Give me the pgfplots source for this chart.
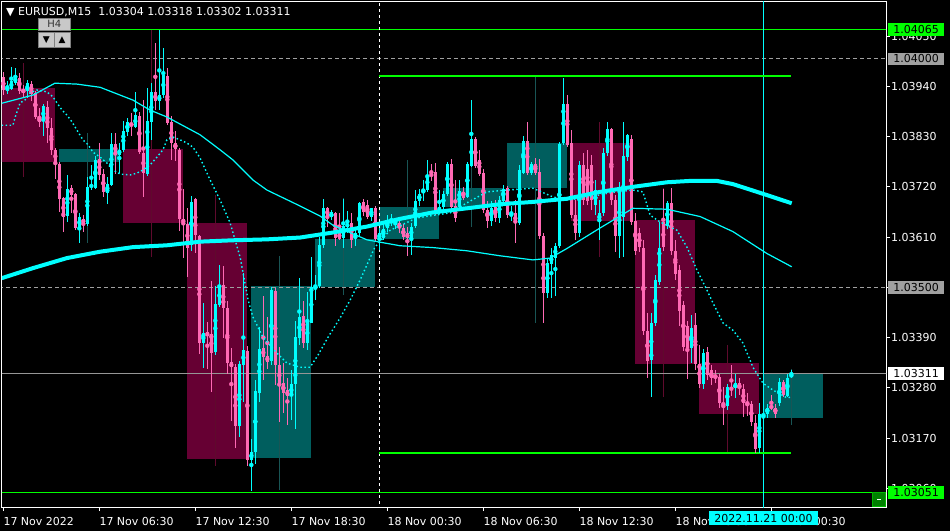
\documentclass[border=0pt]{standalone}
\usepackage{pgfplots}
\pgfplotsset{compat=1.18}
\usepackage{pgfplotstable}
\usepackage{fontspec}
\setmainfont{DejaVu Sans}
\newcommand\lbl{\fontsize{11}{13}\selectfont}

\definecolor{mtpink}{RGB}{255,105,180}
\definecolor{mtcyan}{RGB}{0,255,255}
\definecolor{boxbear}{RGB}{102,0,51}
\definecolor{boxbull}{RGB}{0,94,94}
\definecolor{wickbear}{RGB}{95,10,45}
\definecolor{wickbull}{RGB}{25,85,85}
\definecolor{mtgreen}{RGB}{0,255,0}
\definecolor{mtgray}{RGB}{160,160,160}
\definecolor{bidgray}{RGB}{150,150,150}
\definecolor{btngray}{RGB}{200,200,200}

% M15 bars, k = bar index from 17 Nov 00:30; rising bars
\pgfplotstableread{
k o h l c
1 1.03932 1.03954 1.03925 1.03941
2 1.03936 1.03982 1.03932 1.03952
3 1.03949 1.03980 1.03943 1.03960
6 1.03930 1.03956 1.03917 1.03947
10 1.03864 1.03903 1.03833 1.03897
16 1.03656 1.03746 1.03643 1.03715
19 1.03630 1.03663 1.03597 1.03656
21 1.03639 1.03742 1.03636 1.03720
22 1.03720 1.03768 1.03713 1.03724
23 1.03720 1.03790 1.03717 1.03781
26 1.03709 1.03742 1.03685 1.03728
27 1.03726 1.03838 1.03722 1.03814
29 1.03792 1.03816 1.03752 1.03803
30 1.03801 1.03864 1.03796 1.03842
31 1.03842 1.03871 1.03833 1.03862
33 1.03851 1.03928 1.03849 1.03877
36 1.03750 1.03938 1.03746 1.03866
37 1.03862 1.03949 1.03822 1.03928
39 1.03908 1.04063 1.03888 1.03921
40 1.03921 1.04024 1.03915 1.03965
47 1.03593 1.03702 1.03582 1.03687
50 1.03378 1.03465 1.03323 1.03402
53 1.03358 1.03503 1.03352 1.03463
54 1.03463 1.03549 1.03457 1.03503
59 1.03196 1.03339 1.03172 1.03332
60 1.03330 1.03533 1.03249 1.03363
62 1.03124 1.03168 1.03056 1.03141
63 1.03141 1.03299 1.03115 1.03273
64 1.03268 1.03413 1.03249 1.03365
67 1.03339 1.03501 1.03330 1.03494
72 1.03262 1.03321 1.03211 1.03288
73 1.03288 1.03428 1.03190 1.03391
74 1.03391 1.03520 1.03374 1.03435
76 1.03378 1.03490 1.03363 1.03424
77 1.03424 1.03568 1.03422 1.03503
78 1.03501 1.03527 1.03472 1.03505
79 1.03503 1.03610 1.03498 1.03593
80 1.03593 1.03695 1.03588 1.03674
82 1.03654 1.03669 1.03647 1.03665
85 1.03608 1.03695 1.03588 1.03636
86 1.03634 1.03669 1.03621 1.03641
88 1.03608 1.03630 1.03593 1.03619
89 1.03619 1.03687 1.03610 1.03685
92 1.03654 1.03676 1.03647 1.03674
94 1.03606 1.03630 1.03582 1.03619
95 1.03610 1.03641 1.03604 1.03628
96 1.03630 1.03658 1.03621 1.03643
97 1.03643 1.03660 1.03634 1.03647
98 1.03643 1.03654 1.03630 1.03647
102 1.03608 1.03641 1.03571 1.03632
103 1.03636 1.03713 1.03630 1.03691
104 1.03691 1.03717 1.03680 1.03706
105 1.03706 1.03735 1.03691 1.03713
106 1.03713 1.03779 1.03709 1.03746
109 1.03665 1.03713 1.03660 1.03676
110 1.03676 1.03713 1.03669 1.03706
111 1.03706 1.03774 1.03700 1.03772
114 1.03676 1.03735 1.03669 1.03711
116 1.03698 1.03774 1.03695 1.03772
117 1.03768 1.03910 1.03763 1.03827
122 1.03647 1.03691 1.03636 1.03676
124 1.03652 1.03702 1.03643 1.03691
125 1.03691 1.03724 1.03687 1.03717
127 1.03658 1.03680 1.03647 1.03663
129 1.03641 1.03768 1.03636 1.03757
130 1.03752 1.03833 1.03750 1.03822
132 1.03752 1.03774 1.03746 1.03770
136 1.03488 1.03564 1.03477 1.03555
137 1.03553 1.03586 1.03477 1.03571
138 1.03566 1.03599 1.03483 1.03593
139 1.03593 1.03818 1.03586 1.03816
140 1.03816 1.03960 1.03812 1.03903
144 1.03619 1.03779 1.03612 1.03768
148 1.03680 1.03735 1.03658 1.03713
149 1.03647 1.03691 1.03604 1.03663
150 1.03663 1.03805 1.03656 1.03794
151 1.03794 1.03862 1.03788 1.03847
154 1.03612 1.03731 1.03564 1.03717
155 1.03654 1.03862 1.03566 1.03788
156 1.03785 1.03838 1.03779 1.03833
162 1.03341 1.03444 1.03260 1.03422
163 1.03422 1.03527 1.03417 1.03516
164 1.03513 1.03643 1.03505 1.03588
166 1.03636 1.03691 1.03630 1.03687
172 1.03369 1.03439 1.03334 1.03413
175 1.03290 1.03367 1.03279 1.03358
181 1.03242 1.03288 1.03231 1.03282
183 1.03279 1.03312 1.03258 1.03290
189 1.03148 1.03247 1.03139 1.03222
190 1.03214 1.03242 1.03198 1.03220
191 1.03225 1.03247 1.03216 1.03238
194 1.03247 1.03303 1.03242 1.03293
196 1.03264 1.03312 1.03260 1.03303
197 1.03304 1.03318 1.03302 1.03311
}\bull

% falling bars
\pgfplotstableread{
k o h l c
0 1.03960 1.03971 1.03921 1.03932
4 1.03960 1.03971 1.03925 1.03930
5 1.03934 1.03945 1.03919 1.03928
7 1.03947 1.03952 1.03908 1.03925
8 1.03925 1.03932 1.03871 1.03873
9 1.03873 1.03893 1.03851 1.03862
11 1.03895 1.03910 1.03816 1.03849
12 1.03849 1.03871 1.03790 1.03801
13 1.03801 1.03807 1.03739 1.03774
14 1.03772 1.03774 1.03665 1.03695
15 1.03695 1.03698 1.03621 1.03654
17 1.03717 1.03726 1.03665 1.03702
18 1.03704 1.03706 1.03625 1.03630
20 1.03652 1.03658 1.03621 1.03641
24 1.03781 1.03816 1.03735 1.03746
25 1.03748 1.03759 1.03698 1.03709
28 1.03814 1.03838 1.03750 1.03794
32 1.03862 1.03882 1.03831 1.03855
34 1.03877 1.03884 1.03794 1.03798
35 1.03794 1.03910 1.03698 1.03750
38 1.03928 1.04035 1.03888 1.03908
41 1.03963 1.03980 1.03855 1.03860
42 1.03862 1.03877 1.03779 1.03816
43 1.03816 1.03844 1.03779 1.03803
44 1.03803 1.03805 1.03625 1.03652
45 1.03652 1.03717 1.03566 1.03641
46 1.03641 1.03674 1.03523 1.03588
48 1.03693 1.03698 1.03577 1.03614
49 1.03614 1.03617 1.03356 1.03380
51 1.03402 1.03424 1.03321 1.03393
52 1.03398 1.03514 1.03271 1.03358
55 1.03505 1.03547 1.03391 1.03455
56 1.03455 1.03470 1.03312 1.03334
57 1.03336 1.03369 1.03209 1.03325
58 1.03325 1.03334 1.03150 1.03196
61 1.03363 1.03371 1.03109 1.03124
65 1.03367 1.03483 1.03299 1.03347
66 1.03350 1.03435 1.03323 1.03339
68 1.03492 1.03498 1.03286 1.03330
69 1.03330 1.03369 1.03205 1.03286
70 1.03293 1.03334 1.03225 1.03271
71 1.03275 1.03303 1.03198 1.03262
75 1.03437 1.03470 1.03367 1.03378
81 1.03674 1.03676 1.03634 1.03656
83 1.03663 1.03665 1.03590 1.03608
84 1.03621 1.03663 1.03604 1.03608
87 1.03641 1.03663 1.03586 1.03604
90 1.03687 1.03693 1.03656 1.03667
91 1.03680 1.03693 1.03652 1.03654
93 1.03674 1.03680 1.03604 1.03606
99 1.03641 1.03647 1.03621 1.03630
100 1.03630 1.03639 1.03604 1.03610
101 1.03619 1.03634 1.03571 1.03608
107 1.03748 1.03772 1.03735 1.03744
108 1.03752 1.03774 1.03660 1.03665
112 1.03772 1.03781 1.03669 1.03676
113 1.03678 1.03735 1.03643 1.03652
115 1.03711 1.03720 1.03691 1.03698
118 1.03827 1.03829 1.03761 1.03768
119 1.03781 1.03801 1.03744 1.03750
120 1.03750 1.03761 1.03663 1.03669
121 1.03671 1.03691 1.03632 1.03647
123 1.03676 1.03691 1.03643 1.03652
126 1.03717 1.03722 1.03652 1.03658
128 1.03663 1.03691 1.03597 1.03641
131 1.03822 1.03862 1.03746 1.03752
133 1.03770 1.03783 1.03746 1.03752
134 1.03755 1.03783 1.03608 1.03614
135 1.03614 1.03619 1.03422 1.03488
141 1.03903 1.03921 1.03807 1.03812
142 1.03816 1.03844 1.03652 1.03658
143 1.03658 1.03691 1.03604 1.03619
145 1.03768 1.03794 1.03680 1.03691
146 1.03761 1.03801 1.03680 1.03691
147 1.03768 1.03790 1.03669 1.03691
152 1.03847 1.03849 1.03680 1.03691
153 1.03691 1.03702 1.03577 1.03612
157 1.03825 1.03833 1.03636 1.03645
158 1.03647 1.03663 1.03571 1.03582
159 1.03619 1.03630 1.03577 1.03588
160 1.03588 1.03604 1.03395 1.03406
161 1.03406 1.03444 1.03301 1.03341
165 1.03643 1.03717 1.03582 1.03588
167 1.03687 1.03717 1.03571 1.03582
168 1.03582 1.03604 1.03516 1.03531
169 1.03538 1.03549 1.03417 1.03450
170 1.03461 1.03472 1.03363 1.03369
171 1.03417 1.03428 1.03301 1.03369
173 1.03417 1.03444 1.03319 1.03332
174 1.03334 1.03374 1.03279 1.03290
176 1.03358 1.03369 1.03297 1.03308
177 1.03319 1.03330 1.03286 1.03303
178 1.03308 1.03319 1.03290 1.03303
179 1.03303 1.03312 1.03236 1.03247
180 1.03249 1.03282 1.03198 1.03242
182 1.03282 1.03330 1.03264 1.03275
184 1.03290 1.03301 1.03264 1.03279
185 1.03279 1.03290 1.03216 1.03247
186 1.03249 1.03271 1.03220 1.03244
187 1.03244 1.03253 1.03198 1.03205
188 1.03205 1.03220 1.03137 1.03148
192 1.03240 1.03264 1.03231 1.03236
193 1.03238 1.03247 1.03216 1.03225
195 1.03293 1.03297 1.03260 1.03264
}\bear

% slow moving average (thick)
\pgfplotstableread{
k p
-0.4 1.03520
7.4 1.03542
15.9 1.03564
24.2 1.03578
32.4 1.03588
40.9 1.03592
49.2 1.03600
57.4 1.03603
65.9 1.03605
74.2 1.03609
82.4 1.03620
90.9 1.03633
99.2 1.03650
107.4 1.03664
115.9 1.03673
124.2 1.03682
132.4 1.03687
140.9 1.03694
149.2 1.03709
157.4 1.03720
165.9 1.03730
171.7 1.03733
178.4 1.03733
182.4 1.03726
190.9 1.03702
197.1 1.03684
}\maslow

% medium moving average (thin)
\pgfplotstableread{
k p
-0.4 1.03903
7.4 1.03921
12.9 1.03947
18.4 1.03945
24.2 1.03938
32.4 1.03910
36.7 1.03888
40.9 1.03873
49.2 1.03834
54.2 1.03801
57.4 1.03779
62.4 1.03735
65.9 1.03713
74.2 1.03678
79.2 1.03656
82.4 1.03636
90.9 1.03604
99.2 1.03591
107.4 1.03587
115.9 1.03580
124.2 1.03569
132.4 1.03560
136.7 1.03564
140.9 1.03585
149.2 1.03630
157.4 1.03673
165.9 1.03671
174.2 1.03655
182.4 1.03622
190.9 1.03574
197.1 1.03545
}\mamid

% fast moving average (dotted)
\pgfplotstableread{
k p
-0.4 1.03855
2.4 1.03855
2.9 1.03871
4.2 1.03904
5.4 1.03910
6.7 1.03926
8.4 1.03932
10.9 1.03928
12.4 1.03917
13.4 1.03904
14.7 1.03888
15.9 1.03877
17.2 1.03862
18.7 1.03840
19.9 1.03823
21.2 1.03812
22.4 1.03796
24.2 1.03785
25.9 1.03772
27.4 1.03757
29.2 1.03748
31.7 1.03746
33.4 1.03750
34.9 1.03757
36.7 1.03768
38.4 1.03785
39.9 1.03801
40.9 1.03823
42.4 1.03829
44.2 1.03823
45.9 1.03816
47.4 1.03807
49.2 1.03783
51.7 1.03735
54.2 1.03691
56.7 1.03641
59.2 1.03566
61.2 1.03472
62.4 1.03435
64.9 1.03391
68.4 1.03356
70.9 1.03334
74.2 1.03325
76.7 1.03325
78.7 1.03352
81.2 1.03391
84.2 1.03433
86.7 1.03472
89.2 1.03516
92.9 1.03588
96.7 1.03625
103.4 1.03652
111.7 1.03663
115.9 1.03685
120.9 1.03709
125.9 1.03713
132.4 1.03717
137.4 1.03698
140.9 1.03691
146.7 1.03698
151.7 1.03707
157.4 1.03713
159.9 1.03709
161.7 1.03658
164.2 1.03643
168.4 1.03625
170.9 1.03588
173.4 1.03538
175.9 1.03494
177.4 1.03466
179.9 1.03422
182.4 1.03406
184.9 1.03378
187.4 1.03325
189.9 1.03290
192.4 1.03275
195.9 1.03258
197.2 1.03260
}\mafast

\pgfplotsset{
  wick/.style={#1, only marks, mark=none, forget plot,
    error bars/.cd, y dir=both, y explicit, error mark=none,
    error bar style={line width=1pt, color=#1, solid}},
  body/.style={#1, only marks, mark=none, forget plot,
    error bars/.cd, y dir=both, y explicit, error mark=none,
    error bar style={line width=3.2pt, color=#1, solid}},
}

\begin{document}
\begin{tikzpicture}
\useasboundingbox (0,0) rectangle (950pt,531pt);
\fill[black] (0,0) rectangle (950pt,531pt);
\begin{axis}[
    at={(2pt,24pt)}, anchor=south west,
    scale only axis, width=884pt, height=505pt,
    xmin=-0.33, xmax=220.67,
    ymin=1.030189, ymax=1.041248,
    clip mode=individual,
    axis line style={white, line width=1pt},
    xtick={0,24,...,192},
    xticklabels={17 Nov 2022, 17 Nov 06:30, 17 Nov 12:30, 17 Nov 18:30,
        18 Nov 00:30, 18 Nov 06:30, 18 Nov 12:30, 18 Nov 18:30, 21 Nov 00:30},
    ytick={1.0306,1.0317,1.0328,1.0339,1.035,1.0361,1.0372,1.0383,1.0394,1.0405},
    yticklabels={1.03060,1.03170,1.03280,1.03390,1.03500,1.03610,1.03720,1.03830,1.03940,1.04050},
    xtick pos=bottom, ytick pos=right, yticklabel pos=right,
    tick align=outside, major tick length=4pt,
    tick style={white, line width=0.8pt},
    x tick label style={anchor=north west, inner sep=0pt, yshift=-6pt, font=\lbl, text=white},
    y tick label style={anchor=west, inner sep=0pt, xshift=1pt, font=\lbl, text=white},
]
% H4 bodies
\addplot[fill=boxbear, draw=none, forget plot] coordinates {(-2,1.03936) (13,1.03936) (13,1.03774) (-2,1.03774)};
\addplot[fill=boxbull, draw=none, forget plot] coordinates {(14,1.03774) (29,1.03774) (29,1.03803) (14,1.03803)};
\addplot[fill=boxbear, draw=none, forget plot] coordinates {(30,1.03803) (45,1.03803) (45,1.03641) (30,1.03641)};
\addplot[fill=boxbear, draw=none, forget plot] coordinates {(46,1.03641) (61,1.03641) (61,1.03124) (46,1.03124)};
\addplot[fill=boxbull, draw=none, forget plot] coordinates {(62,1.03126) (77,1.03126) (77,1.03503) (62,1.03503)};
\addplot[fill=boxbull, draw=none, forget plot] coordinates {(78,1.03501) (93,1.03501) (93,1.03606) (78,1.03606)};
\addplot[fill=boxbull, draw=none, forget plot] coordinates {(94,1.03606) (109,1.03606) (109,1.03676) (94,1.03676)};
\addplot[fill=boxbull, draw=none, forget plot] coordinates {(110,1.03676) (125,1.03676) (125,1.03717) (110,1.03717)};
\addplot[fill=boxbull, draw=none, forget plot] coordinates {(126,1.03717) (141,1.03717) (141,1.03816) (126,1.03816)};
\addplot[fill=boxbear, draw=none, forget plot] coordinates {(142,1.03816) (157,1.03816) (157,1.03645) (142,1.03645)};
\addplot[fill=boxbear, draw=none, forget plot] coordinates {(158,1.03647) (173,1.03647) (173,1.03332) (158,1.03332)};
\addplot[fill=boxbear, draw=none, forget plot] coordinates {(174,1.03334) (189,1.03334) (189,1.03222) (174,1.03222)};
\addplot[fill=boxbull, draw=none, forget plot] coordinates {(190,1.03214) (205,1.03214) (205,1.03311) (190,1.03311)};
% H4 wicks
\addplot[wickbear, line width=1pt, forget plot] coordinates {(5,1.03991) (5,1.03742)};
\addplot[wickbull, line width=1pt, forget plot] coordinates {(21,1.03838) (21,1.03597)};
\addplot[wickbear, line width=1pt, forget plot] coordinates {(37,1.04063) (37,1.03566)};
\addplot[wickbear, line width=1pt, forget plot] coordinates {(53,1.03702) (53,1.03109)};
\addplot[wickbull, line width=1pt, forget plot] coordinates {(69,1.03568) (69,1.03056)};
\addplot[wickbull, line width=1pt, forget plot] coordinates {(85,1.03695) (85,1.03483)};
\addplot[wickbull, line width=1pt, forget plot] coordinates {(101,1.03779) (101,1.03571)};
\addplot[wickbull, line width=1pt, forget plot] coordinates {(117,1.03910) (117,1.03632)};
\addplot[wickbull, line width=1pt, forget plot] coordinates {(133,1.03960) (133,1.03422)};
\addplot[wickbear, line width=1pt, forget plot] coordinates {(149,1.03862) (149,1.03566)};
\addplot[wickbear, line width=1pt, forget plot] coordinates {(165,1.03717) (165,1.03260)};
\addplot[wickbear, line width=1pt, forget plot] coordinates {(181,1.03374) (181,1.03137)};
\addplot[wickbull, line width=1pt, forget plot] coordinates {(197,1.03321) (197,1.03198)};
% levels
\addplot[mtgreen, line width=1pt, forget plot] coordinates {(-1,1.04065) (221,1.04065)};
\addplot[mtgreen, line width=1pt, forget plot] coordinates {(-1,1.03051) (221,1.03051)};
\addplot[mtgray, line width=1pt, dash pattern=on 4pt off 3pt, forget plot] coordinates {(-1,1.04) (221,1.04)};
\addplot[mtgray, line width=1pt, dash pattern=on 4pt off 3pt, forget plot] coordinates {(-1,1.035) (221,1.035)};
\addplot[bidgray, line width=1pt, forget plot] coordinates {(-1,1.03311) (221,1.03311)};
\addplot[white, line width=1pt, dash pattern=on 3pt off 3pt, forget plot] coordinates {(94,1.0300) (94,1.0415)};
\addplot[mtcyan, line width=1pt, forget plot] coordinates {(190,1.0300) (190,1.0415)};
\addplot[mtgreen, line width=2pt, forget plot] coordinates {(94,1.03963) (197,1.03963)};
\addplot[mtgreen, line width=2pt, forget plot] coordinates {(94,1.03137) (197,1.03137)};
% M15 candles: wicks, then bodies
\addplot[wick=mtcyan]
  table[x=k, y expr={(\thisrow{h}+\thisrow{l})/2}, y error expr={(\thisrow{h}-\thisrow{l})/2}] {\bull};
\addplot[wick=mtpink]
  table[x=k, y expr={(\thisrow{h}+\thisrow{l})/2}, y error expr={(\thisrow{h}-\thisrow{l})/2}] {\bear};
\addplot[body=mtcyan]
  table[x=k, y expr={(\thisrow{o}+\thisrow{c})/2}, y error expr={(\thisrow{c}-\thisrow{o})/2}] {\bull};
\addplot[body=mtpink]
  table[x=k, y expr={(\thisrow{o}+\thisrow{c})/2}, y error expr={(\thisrow{o}-\thisrow{c})/2}] {\bear};
% moving averages
\addplot[mtcyan, line width=4pt, forget plot] table[x=k, y=p] {\maslow};
\addplot[mtcyan, line width=1.2pt, forget plot] table[x=k, y=p] {\mamid};
\addplot[mtcyan, line width=1.4pt, dash pattern=on 1.5pt off 2.5pt, forget plot] table[x=k, y=p] {\mafast};

\coordinate (r65) at (axis cs:220.67,1.04065);
\coordinate (r40) at (axis cs:220.67,1.04);
\coordinate (r35) at (axis cs:220.67,1.035);
\coordinate (r311) at (axis cs:220.67,1.03311);
\coordinate (r051) at (axis cs:220.67,1.03051);
\end{axis}

% price labels on the scale
\tikzset{plbl/.style={anchor=west, inner sep=0pt, minimum width=56pt, minimum height=12.5pt, font=\lbl, text=black}}
\node[plbl, fill=mtgreen] at ([xshift=2pt]r65) {1.04065};
\node[plbl, fill=mtgray] at ([xshift=2pt]r40) {1.04000};
\node[plbl, fill=mtgray] at ([xshift=2pt]r35) {1.03500};
\node[plbl, fill=white] at ([xshift=2pt]r311) {1.03311};
\node[plbl, fill=mtgreen] at ([xshift=2pt]r051) {1.03051};

% header and buttons
\node[anchor=west, inner sep=0pt, font=\lbl, text=white] at (6pt,519pt) {▼ EURUSD,M15\ \ 1.03304 1.03318 1.03302 1.03311};
\draw[fill=btngray, draw=gray] (38.5pt,501pt) rectangle (70pt,512.5pt);
\node[font=\fontsize{10}{12}\selectfont, text=black!80, inner sep=0pt] at (54.25pt,506.8pt) {H4};
\draw[fill=btngray, draw=gray] (38.5pt,483.5pt) rectangle (54pt,498.5pt);
\draw[fill=btngray, draw=gray] (54pt,483.5pt) rectangle (70pt,498.5pt);
\node[font=\fontsize{9}{10}\selectfont, text=black, inner sep=0pt] at (46.25pt,491pt) {▼};
\node[font=\fontsize{9}{10}\selectfont, text=black, inner sep=0pt] at (62pt,491pt) {▲};
\draw[fill={rgb,255:red,0;green,128;blue,0}, draw={rgb,255:red,0;green,180;blue,0}] (872pt,24.5pt) rectangle (885.5pt,38.5pt);
\fill[white] (877pt,31pt) rectangle (880.5pt,32.5pt);
% time label of the vertical line
\node[fill=mtcyan, text=black, inner sep=0pt, minimum width=109pt, minimum height=14pt, font=\lbl] at (763.5pt,13pt) {2022.11.21 00:00};
\end{tikzpicture}
\end{document}
